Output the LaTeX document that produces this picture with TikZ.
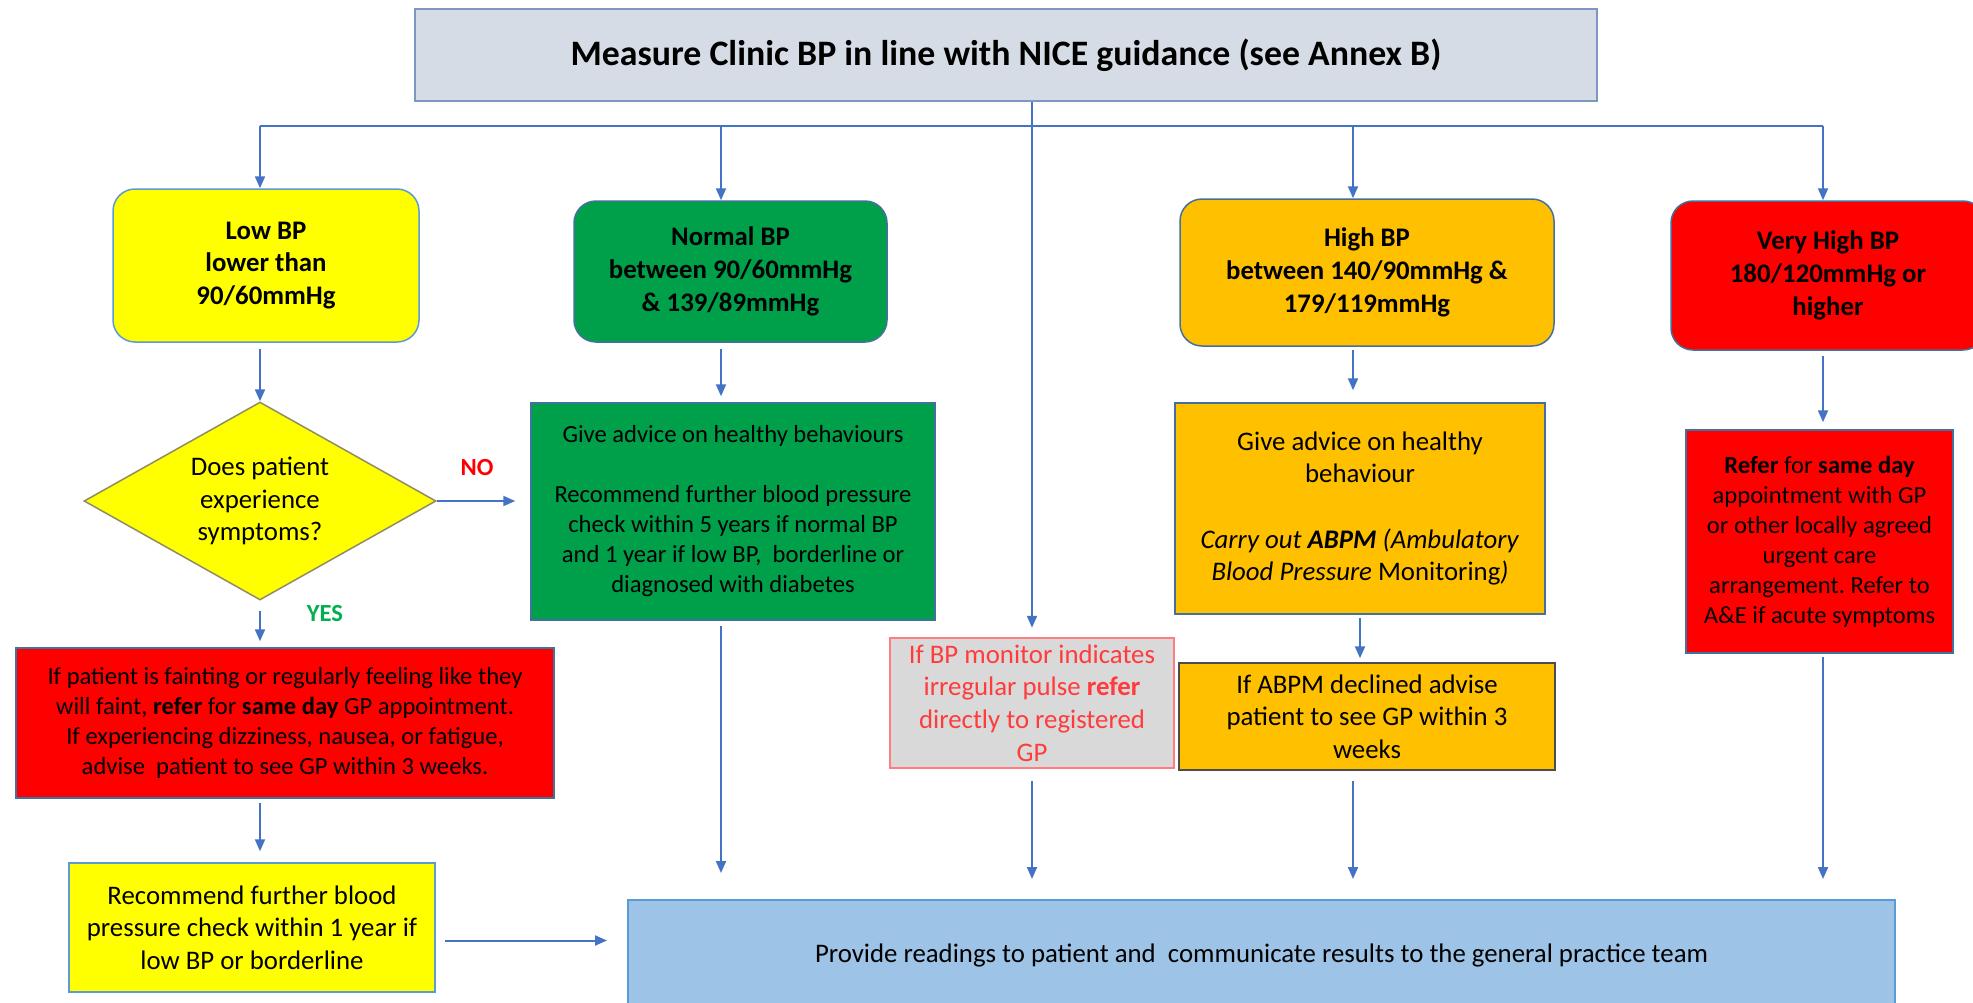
\documentclass[tikz,border=0pt]{standalone}
\usepackage{fontspec}
\setmainfont{Carlito}
\usetikzlibrary{arrows.meta,shapes.geometric}
\definecolor{lineblue}{HTML}{4472C4}
\definecolor{topfill}{HTML}{D6DCE5}
\definecolor{topdraw}{HTML}{7F96C4}
\definecolor{yellowc}{HTML}{FFFF00}
\definecolor{greenc}{HTML}{00A04A}
\definecolor{orangec}{HTML}{FFC000}
\definecolor{redc}{HTML}{FF0000}
\definecolor{greyc}{HTML}{D9D9D9}
\definecolor{bluefill}{HTML}{9DC3E6}
\definecolor{bluedraw}{HTML}{5B9BD5}
\definecolor{pulsetext}{HTML}{FF3B3B}
\definecolor{pulsedraw}{HTML}{FF7C80}
\definecolor{boxdraw}{HTML}{41719C}
\definecolor{yesgreen}{HTML}{00B050}
\frenchspacing
\begin{document}
\begin{tikzpicture}[x=1pt,y=-1pt,
  box/.style={draw=boxdraw, line width=1.5pt, inner sep=0pt, align=center, text=black,
    font=\fontsize{24.6}{30}\selectfont},
  bigtxt/.style={font=\fontsize{26.8}{32.7}\selectfont},
  head/.style={box, rounded corners=22pt, font=\fontsize{26.8}{32.7}\selectfont\bfseries},
  ln/.style={draw=lineblue, line width=2pt},
  arr/.style={ln, -{Triangle[length=12pt,width=10pt]}},
  lbl/.style={font=\fontsize{24.6}{30}\selectfont\bfseries}
]
\useasboundingbox (0,0) rectangle (1973,1002);

% top box
\node[box, fill=topfill, draw=topdraw, line width=2.5pt, minimum width=1182pt, minimum height=92pt,
  font=\fontsize{35.8}{43}\selectfont\bfseries] (top) at (1006,55)
  {Measure Clinic BP in line with NICE guidance (see Annex B)};

% category boxes
\node[head, fill=yellowc, draw=bluedraw, minimum width=306pt, minimum height=153pt] (low) at (266,265.5)
  {Low BP\\lower than\\90/60mmHg};
\node[head, fill=greenc, minimum width=313pt, minimum height=141pt] (normal) at (730.5,271.5)
  {Normal BP\\between 90/60mmHg\\\& 139/89mmHg};
\node[head, fill=orangec, minimum width=374pt, minimum height=147pt] (high) at (1367,272.5)
  {High BP\\between 140/90mmHg \&\\179/119mmHg};
\node[head, fill=redc, minimum width=314pt, minimum height=149pt] (vhigh) at (1828,275.5)
  {Very High BP\\180/120mmHg or\\higher};

% decision
\node[diamond, aspect=1.78, draw=gray!70!olive, fill=yellowc, line width=1.5pt, inner sep=0pt,
  minimum width=352pt, minimum height=198pt, align=center, bigtxt] (dia) at (260,501)
  {Does patient\\experience\\symptoms?};

% second row
\node[box, fill=greenc, minimum width=404pt, minimum height=217pt] (green) at (733,511.5)
  {Give advice on healthy behaviours\\[30pt]Recommend further blood pressure\\check within 5 years if normal BP\\and 1 year if low BP,\ \ borderline or\\diagnosed with diabetes};
\node[box, fill=orangec, minimum width=370pt, minimum height=211pt, bigtxt] (orange) at (1360,508.5)
  {Give advice on healthy\\behaviour\\[32.7pt]\textit{Carry out \textbf{ABPM} (Ambulatory}\\\textit{Blood Pressure} Monitoring\textit{)}};
\node[box, fill=redc, minimum width=267pt, minimum height=223pt] (rred) at (1819.5,541.5)
  {\textbf{Refer} for \textbf{same day}\\appointment with GP\\or other locally agreed\\urgent care\\arrangement. Refer to\\A\&E if acute symptoms};

% third row
\node[box, fill=redc, minimum width=538pt, minimum height=150pt] (lred) at (285,723)
  {If patient is fainting or regularly feeling like they\\will faint, \textbf{refer} for \textbf{same day} GP appointment.\\If experiencing dizziness, nausea, or fatigue,\\advise\ \ patient to see GP within 3 weeks.};
\node[box, fill=greyc, draw=pulsedraw, line width=2.5pt, text=pulsetext, minimum width=284pt, minimum height=130pt, bigtxt] (pulse) at (1032,703)
  {If BP monitor indicates\\irregular pulse \textbf{refer}\\directly to registered\\GP};
\node[box, fill=orangec, draw=gray!60!black, minimum width=376pt, minimum height=107pt, bigtxt] (decl) at (1367,716.5)
  {If ABPM declined advise\\patient to see GP within 3\\weeks};

% bottom row
\node[box, fill=yellowc, draw=bluedraw, minimum width=366pt, minimum height=129pt, bigtxt] (ybl) at (252,927.5)
  {Recommend further blood\\pressure check within 1 year if\\low BP or borderline};
\node[box, fill=bluefill, draw=bluedraw, line width=2pt, minimum width=1267pt, minimum height=110pt, bigtxt] (bottom) at (1261.5,955)
  {Provide readings to patient and\ \ communicate results to the general practice team};

% labels
\node[lbl, text=redc] (no) at (477,468) {NO};
\node[lbl, text=yesgreen] (yes) at (325,614) {YES};

% bus
\coordinate (bL) at (260,126);
\coordinate (bN) at (721,126);
\coordinate (bH) at (1353,126);
\coordinate (bV) at (1823,126);
\draw[ln] (bL) -- (bV);
\draw[arr] (bL) -- (bL |- low.north);
\draw[arr] (bN) -- (bN |- normal.north);
\draw[arr] (bH) -- (bH |- high.north);
\draw[arr] (bV) -- (bV |- vhigh.north);
\draw[arr, shorten >=9pt] (top.south -| pulse.north) -- (pulse.north);

% category to second row
\draw[arr, shorten <=6pt] (low.south -| dia.north) -- (dia.north);
\draw[arr, shorten <=6pt, shorten >=6pt] (normal.south -| bN) -- (bN |- green.north);
\draw[arr, shorten <=3pt, shorten >=12pt] (high.south -| bH) -- (bH |- orange.north);
\draw[arr, shorten <=5pt, shorten >=7pt] (vhigh.south -| bV) -- (bV |- rred.north);

% decision arrows
\draw[arr, shorten >=15pt] (dia.east) -- (green.west |- dia.east);
\draw[arr, shorten <=10pt, shorten >=6pt] (dia.south) -- (dia.south |- lred.north);
\draw[arr, shorten <=4pt, shorten >=11pt] (lred.south -| dia.south) -- (dia.south |- ybl.north);
\draw[arr, shorten <=3pt, shorten >=4pt] (orange.south) -- (orange.south |- decl.north);

% to bottom box
\draw[arr, shorten <=9pt, shorten >=20pt] ([yshift=-13pt]ybl.east) -- ([yshift=-13pt]ybl.east -| bottom.west);
\draw[arr, shorten <=5pt, shorten >=26pt] (green.south -| bN) -- (bN |- bottom.north);
\draw[arr, shorten <=12pt, shorten >=20pt] (pulse.south) -- (pulse.south |- bottom.north);
\draw[arr, shorten <=10pt, shorten >=20pt] (decl.south -| bH) -- (bH |- bottom.north);
\draw[arr, shorten <=3pt, shorten >=20pt] (rred.south -| bV) -- (bV |- bottom.north);
\end{tikzpicture}
\end{document}
